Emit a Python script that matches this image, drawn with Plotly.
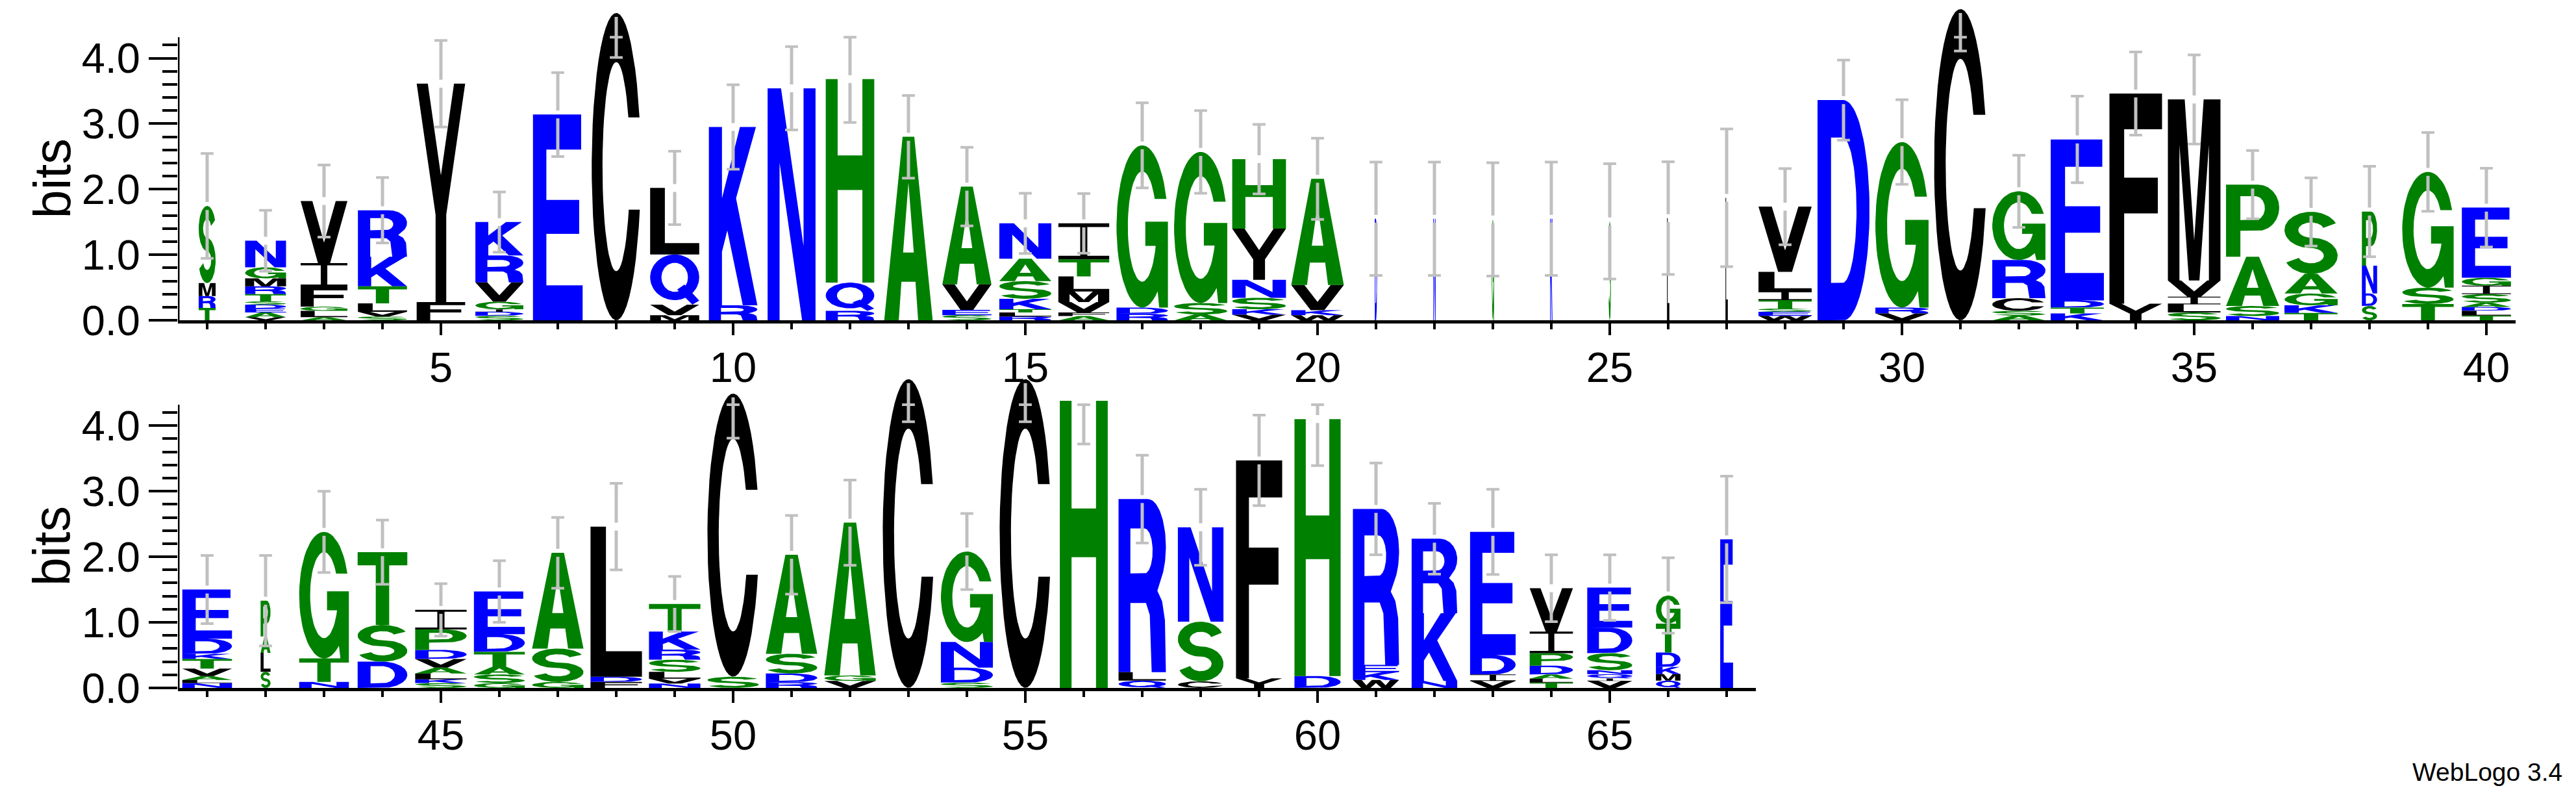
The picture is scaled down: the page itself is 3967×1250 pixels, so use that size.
import numpy as np
import plotly.graph_objects as go

# ------------------------------------------------------------------ data
positions = list(range(1, 68))

# letters of each stack, listed bottom -> top
stack_letters = [
    "TRMS", "VAEDSTRMGN", "ALGFIV", "SVLTKR", "FY", "SDIGVRK", "E", "C", "MVQL", "RK",
    "N", "RQH", "A", "SEVA", "RLTKSAN", "AFVMLTI", "RDG", "ASG", "VKSNYH", "WKVA",
    "D", "N", "G", "K", "S", "L", "L", "WESTILV", "D", "VRG",
    "C", "ASCRG", "KTDE", "YF", "SLIVM", "NSAP", "TKGAS", "SDNP", "TSG", "TLDASIGE",
    "NLAVTKDE", "SLAP", "NTG", "DST", "SKLAVDPI", "GSATDE", "GSA", "FDL", "NVLSRKT", "SC",
    "RDSA", "VGA", "C", "SDNG", "C", "H", "QLR", "CSN", "YF", "DH",
    "WKER", "NKR", "VIDE", "TLADPIV", "VIQNSDE", "QMKDTG", "E",
]

# letter heights in bits, bottom -> top
stack_heights = [
    [.19, .18, .20, 1.175],
    [.05, .07, .06, .06, .05, .11, .12, .12, .17, .405],
    [.05, .095, .065, .30, .365, .945],
    [.06, .07, .13, .26, .45, .71],
    [.28, 3.33],
    [.07, .06, .04, .115, .295, .41, .51],
    [3.14],
    [4.69],
    [.08, .16, .765, 1.015],
    [.23, 2.72],
    [3.54],
    [.145, .431, 3.104],
    [2.80],
    [.08, .08, .39, 1.49],
    [.06, .06, .05, .16, .27, .34, .54],
    [.066, .054, .16, .16, .23, .26, .55],
    [.10, .095, 2.475],
    [.09, .175, 2.305],
    [.086, .084, .175, .275, .78, 1.06],
    [.08, .075, .385, 1.62],
    [1.55], [1.55], [1.54], [1.55], [1.51], [1.56], [1.87],
    [.07, .06, .05, .13, .13, .30, .995],
    [3.36],
    [.105, .09, 2.525],
    [4.75],
    [.073, .073, .194, .58, 1.05],
    [.106, .089, .11, 2.455],
    [.255, 3.205],
    [.12, .125, .115, .25, 2.76],
    [.066, .154, .75, 1.10],
    [.113, .117, .18, .30, .945],
    [.22, .19, .425, .825],
    [.25, .25, 1.765],
    [.073, .073, .059, .065, .13, .13, .12, 1.07],
    [.073, .047, .06, .115, .145, .08, .23, .75],
    [.245, .29, .25, .545],
    [.09, .36, 1.93],
    [.40, .56, 1.11],
    [.073, .057, .09, .09, .13, .14, .31, .30],
    [.073, .132, .125, .22, .27, .65],
    [.09, .51, 1.46],
    [.09, .08, 2.29],
    [.066, .074, .105, .185, .155, .275, .42],
    [.17, 4.32],
    [.086, .134, .30, 1.51],
    [.106, .084, 2.33],
    [4.71],
    [.08, .23, .39, 1.38],
    [4.71],
    [4.38],
    [.11, .13, 2.64],
    [.10, .91, 1.44],
    [.146, 3.324],
    [.18, 3.92],
    [.12, .12, .11, 2.38],
    [.106, 1.034, 1.135],
    [.106, .099, .295, 1.88],
    [.08, .06, .065, .135, .19, .33, .66],
    [.106, .04, .064, .06, .26, .39, .61],
    [.11, .10, .11, .22, .44, .43],
    [2.265],
]

# stack width (fraction of one position)
stack_widths = [
    .29, .70, .80, .84, .83, .82, .85, .84, .84, .83,
    .82, .83, .83, .84, .89, .87, .88, .91, .92, .90,
    .04, .04, .04, .04, .04, .04, .04, .91, .89, .91,
    .90, .91, .91, .90, .90, .91, .91, .26, .88, .84,
    .85, .17, .85, .85, .88, .87, .88, .88, .88, .88,
    .88, .88, .88, .89, .88, .82, .81, .78, .79, .79,
    .79, .78, .78, .74, .77, .42, .22,
]

# error bar half-length (bits)
error_half = [
    .80, .465, .55, .50, .66, .46, .64, .68, .56, .645,
    .635, .66, .63, .60, .46, .455, .65, .63, .53, .62,
    .865, .865, .865, .865, .88, .86, 1.05, .58, .61, .645,
    .64, .55, .66, .635, .68, .52, .52, .69, .60, .60,
    .52, .69, .62, .49, .40, .47, .54, .66, .42, .68,
    .60, .65, .65, .58, .65, .66, .67, .58, .69, .71,
    .70, .54, .65, .51, .50, .575, .965,
]

top_positions = positions[:40]
bottom_positions = positions[40:]
y_ticks = [0, 1, 2, 3, 4]
y_ticktext = ["0.0", "1.0", "2.0", "3.0", "4.0"]
top_xticks = [5, 10, 15, 20, 25, 30, 35, 40]
bottom_xticks = [45, 50, 55, 60, 65]
YMAX = 4.32  # log2(20)

# ------------------------------------------------------------------ style
BLUE, GREEN, BLACK = "#0000ff", "#008000", "#000000"
COLOR = {}
for ch in "RKDENQ":
    COLOR[ch] = BLUE
for ch in "SGHTAP":
    COLOR[ch] = GREEN
for ch in "YVMCLFIW":
    COLOR[ch] = BLACK
ERR_COLOR = "#c0c0c0"
FONT = "Liberation Sans, Arial, Helvetica, sans-serif"


# ------------------------------------------------------------------ glyphs (unit box)
def arc(cx, cy, rx, ry, a0, a1, n=48):
    t = np.radians(np.linspace(a0, a1, n))
    return list(zip(cx + rx * np.cos(t), cy + ry * np.sin(t)))


def ang(cy, ry, y):
    return float(np.degrees(np.arcsin((y - cy) / ry)))


def stroke(spine, hx, hy):
    P = np.asarray(spine, float)
    Q = P / [hx, hy]
    d = np.gradient(Q, axis=0)
    d /= np.linalg.norm(d, axis=1)[:, None]
    nrm = np.stack([-d[:, 1], d[:, 0]], axis=1)
    L = (Q + nrm) * [hx, hy]
    R = (Q - nrm) * [hx, hy]
    return [tuple(p) for p in np.vstack([L, R[::-1]])]


def glyph(fill, holes=(), extra=()):
    return dict(fill=list(fill), holes=list(holes), extra=list(extra))


GLYPHS = {}
GLYPHS["A"] = glyph([[(0, 0), (0.30, 0), (0.355, 0.21), (0.645, 0.21), (0.70, 0), (1, 0),
                      (0.62, 1), (0.38, 1)]],
                    [[(0.39, 0.37), (0.61, 0.37), (0.5, 0.75)]])
# C
_ot, _ob = ang(0.5, 0.5, 0.66), ang(0.5, 0.5, 0.36)
_it, _ib = ang(0.5, 0.34, 0.66), ang(0.5, 0.34, 0.36)
GLYPHS["C"] = glyph([arc(0.5, 0.5, 0.5, 0.5, _ot, 360 + _ob) +
                     arc(0.5, 0.5, 0.28, 0.34, 360 + _ib, _it)])
# G
_gt = ang(0.5, 0.5, 0.67)
_git = ang(0.5, 0.34, 0.67)
_gib = ang(0.5, 0.34, 0.38)
_gx = 0.5 + 0.28 * np.cos(np.radians(_gib))
GLYPHS["G"] = glyph([arc(0.5, 0.5, 0.5, 0.5, _gt, 306.9) +
                     [(0.83, 0.0), (1.0, 0.0), (1.0, 0.53), (0.56, 0.53), (0.56, 0.38), (_gx, 0.38)] +
                     arc(0.5, 0.5, 0.28, 0.34, 360 + _gib, _git)])
GLYPHS["D"] = glyph([[(0, 0), (0.5, 0)] + arc(0.5, 0.5, 0.5, 0.5, -90, 90) + [(0.5, 1), (0, 1)]],
                    [[(0.26, 0.17), (0.48, 0.17)] + arc(0.48, 0.5, 0.27, 0.33, -90, 90) +
                     [(0.48, 0.83), (0.26, 0.83)]])
GLYPHS["E"] = glyph([[(0, 0), (1, 0), (1, 0.17), (0.27, 0.17), (0.27, 0.42), (0.93, 0.42),
                      (0.93, 0.585), (0.27, 0.585), (0.27, 0.83), (0.97, 0.83), (0.97, 1), (0, 1)]])
GLYPHS["F"] = glyph([[(0, 0), (0.28, 0), (0.28, 0.43), (0.92, 0.43), (0.92, 0.60), (0.28, 0.60),
                      (0.28, 0.83), (1, 0.83), (1, 1), (0, 1)]])
GLYPHS["H"] = glyph([[(0, 0), (0.245, 0), (0.245, 0.455), (0.755, 0.455), (0.755, 0), (1, 0),
                      (1, 1), (0.755, 1), (0.755, 0.625), (0.245, 0.625), (0.245, 1), (0, 1)]])
GLYPHS["I"] = glyph([[(0, 0), (1, 0), (1, 0.1), (0.57, 0.1), (0.57, 0.9), (1, 0.9), (1, 1), (0, 1),
                      (0, 0.9), (0.43, 0.9), (0.43, 0.1), (0, 0.1)]])
GLYPHS["K"] = glyph([[(0, 0), (0.27, 0), (0.27, 0.30), (0.38, 0.42), (0.70, 0), (1.0, 0),
                      (0.56, 0.60), (0.97, 1), (0.64, 1), (0.27, 0.60), (0.27, 1), (0, 1)]])
GLYPHS["L"] = glyph([[(0, 0), (1, 0), (1, 0.17), (0.30, 0.17), (0.30, 1), (0, 1)]])
GLYPHS["M"] = glyph([[(0, 0), (0.22, 0), (0.22, 0.75), (0.40, 0), (0.60, 0), (0.78, 0.75),
                      (0.78, 0), (1, 0), (1, 1), (0.68, 1), (0.5, 0.22), (0.32, 1), (0, 1)]])
GLYPHS["N"] = glyph([[(0, 0), (0.25, 0), (0.25, 0.68), (0.72, 0), (1, 0), (1, 1), (0.75, 1),
                      (0.75, 0.32), (0.28, 1), (0, 1)]])
GLYPHS["P"] = glyph([[(0, 0), (0.27, 0), (0.27, 0.36), (0.6, 0.36)] +
                     arc(0.6, 0.68, 0.4, 0.32, -90, 90) + [(0, 1)]],
                    [[(0.27, 0.51), (0.55, 0.51)] + arc(0.55, 0.675, 0.18, 0.165, -90, 90) +
                     [(0.27, 0.84)]])
GLYPHS["Q"] = glyph([arc(0.5, 0.545, 0.5, 0.455, 0, 360, 72)],
                    [arc(0.5, 0.545, 0.27, 0.29, 0, 360, 72)],
                    [[(0.55, 0.30), (0.70, 0.40), (1.0, 0.08), (0.86, 0.0)]])
GLYPHS["R"] = glyph([[(0, 0), (0.25, 0), (0.25, 0.40), (0.58, 0.40), (0.66, 0.33), (0.70, 0),
                      (1.0, 0), (0.98, 0.30), (0.92, 0.41), (0.82, 0.47)] +
                     arc(0.62, 0.725, 0.38, 0.275, -45, 90) + [(0, 1)]],
                    [[(0.25, 0.57), (0.55, 0.57)] + arc(0.55, 0.70, 0.17, 0.13, -90, 90) +
                     [(0.25, 0.83)]])
_sp = arc(0.5, 0.7075, 0.37, 0.2075, 20, 270, 60) + arc(0.5, 0.2925, 0.37, 0.2075, 90, -160, 60)[1:]
GLYPHS["S"] = glyph([stroke(_sp, 0.13, 0.085)])
GLYPHS["T"] = glyph([[(0.365, 0), (0.635, 0), (0.635, 0.82), (1, 0.82), (1, 1), (0, 1), (0, 0.82),
                      (0.365, 0.82)]])
GLYPHS["V"] = glyph([[(0, 1), (0.25, 1), (0.5, 0.33), (0.75, 1), (1, 1), (0.63, 0), (0.37, 0)]])
GLYPHS["W"] = glyph([[(0, 1), (0.19, 1), (0.29, 0.33), (0.41, 1), (0.59, 1), (0.71, 0.33),
                      (0.81, 1), (1, 1), (0.82, 0), (0.62, 0), (0.5, 0.62), (0.38, 0), (0.18, 0)]])
GLYPHS["Y"] = glyph([[(0.39, 0), (0.61, 0), (0.61, 0.40), (1, 1), (0.77, 1), (0.5, 0.58),
                      (0.23, 1), (0, 1), (0.39, 0.40)]])


# ------------------------------------------------------------------ build traces
def add_poly(bucket, poly, x0, w, y0, h):
    for gx, gy in poly:
        bucket[0].append(x0 + gx * w)
        bucket[1].append(y0 + gy * h)
    bucket[0].append(None)
    bucket[1].append(None)


def panel_traces(panel_positions, xa, ya):
    cols = [BLUE, GREEN, BLACK]
    fills = {c: ([], []) for c in cols}
    extras = {c: ([], []) for c in cols}
    holes = ([], [])
    bars = ([], [])
    caps = ([], [])
    gap, capw = 0.06, 0.11
    for p in panel_positions:
        i = positions.index(p)
        w = stack_widths[i]
        x0 = p - w / 2
        y0 = 0.0
        for ch, h in zip(stack_letters[i], stack_heights[i]):
            g = GLYPHS[ch]
            c = COLOR[ch]
            for poly in g["fill"]:
                add_poly(fills[c], poly, x0, w, y0, h)
            for poly in g["holes"]:
                add_poly(holes, poly, x0, w, y0, h)
            for poly in g["extra"]:
                add_poly(extras[c], poly, x0, w, y0, h)
            y0 += h
        top = y0
        e = error_half[i]
        lo, hi = top - e, min(top + e, YMAX)
        bars[0].extend([p, p, None])
        bars[1].extend([lo, top - gap, None])
        if hi > top + gap:
            bars[0].extend([p, p, None])
            bars[1].extend([top + gap, hi, None])
        for yv in (lo, hi):
            caps[0].extend([p - capw, p + capw, None])
            caps[1].extend([yv, yv, None])

    traces = []
    common = dict(mode="lines", hoverinfo="skip", showlegend=False, xaxis=xa, yaxis=ya)
    for c in cols:
        if fills[c][0]:
            traces.append(go.Scatter(x=fills[c][0], y=fills[c][1], fill="toself", fillcolor=c,
                                     line=dict(width=0, color=c), **common))
    if holes[0]:
        traces.append(go.Scatter(x=holes[0], y=holes[1], fill="toself", fillcolor="white",
                                 line=dict(width=0, color="white"), **common))
    for c in cols:
        if extras[c][0]:
            traces.append(go.Scatter(x=extras[c][0], y=extras[c][1], fill="toself", fillcolor=c,
                                     line=dict(width=0, color=c), **common))
    traces.append(go.Scatter(x=bars[0], y=bars[1], line=dict(width=5, color=ERR_COLOR), **common))
    traces.append(go.Scatter(x=caps[0], y=caps[1], line=dict(width=4, color=ERR_COLOR), **common))
    return traces


fig = go.Figure()
for t in panel_traces(top_positions, "x", "y"):
    fig.add_trace(t)
for t in panel_traces(bottom_positions, "x2", "y2"):
    fig.add_trace(t)

# ------------------------------------------------------------------ layout
W, H = 3967, 1250
LEFT = 266
UNIT = 90
YR = [0, 500 / 104]
tickfont = dict(family=FONT, size=65, color="black")

xcommon = dict(showgrid=False, zeroline=False, showline=True, linewidth=5, linecolor="black",
               ticks="outside", ticklen=18, tickwidth=4, tickcolor="black", tickfont=tickfont,
               tickmode="array", ticklabelstandoff=-6)
ycommon = dict(showgrid=False, zeroline=False, showline=False, range=YR,
               ticks="outside", ticklen=44, tickwidth=4, tickcolor="black", tickfont=tickfont,
               tickmode="array", tickvals=y_ticks, ticktext=y_ticktext,
               minor=dict(tickmode="array",
                          tickvals=[round(v * 0.2, 1) for v in range(1, 22) if v % 5 != 0],
                          ticklen=23, tickwidth=4, tickcolor="black", ticks="outside"))

fig.update_layout(
    width=W, height=H,
    margin=dict(l=0, r=0, t=0, b=0),
    paper_bgcolor="white", plot_bgcolor="rgba(0,0,0,0)",
    showlegend=False,
    xaxis=dict(domain=[LEFT / W, (LEFT + 40 * UNIT) / W], range=[0.5, 40.5], anchor="y",
               tickvals=top_xticks,
               minor=dict(tickmode="array", tickvals=top_positions, ticklen=9, tickwidth=4,
                          tickcolor="black", ticks="outside"),
               **xcommon),
    yaxis=dict(domain=[0.6, 1.0], anchor="x", **ycommon),
    xaxis2=dict(domain=[LEFT / W, (LEFT + 27 * UNIT) / W], range=[40.5, 67.5], anchor="y2",
                tickvals=bottom_xticks,
                minor=dict(tickmode="array", tickvals=bottom_positions, ticklen=9, tickwidth=4,
                           tickcolor="black", ticks="outside"),
                **xcommon),
    yaxis2=dict(domain=[167 / H, 667 / H], anchor="x2", **ycommon),
    shapes=[
        dict(type="line", xref="x", yref="y", x0=0.5, x1=0.5, y0=-0.024, y1=YMAX,
             line=dict(color="black", width=5)),
        dict(type="line", xref="x2", yref="y2", x0=40.5, x1=40.5, y0=-0.024, y1=YMAX,
             line=dict(color="black", width=5)),
    ],
    annotations=[
        dict(text="bits", xref="paper", yref="y", x=72 / W, y=YMAX / 2, textangle=-90,
             showarrow=False, xanchor="center", yanchor="middle",
             font=dict(family=FONT, size=79, color="black")),
        dict(text="bits", xref="paper", yref="y2", x=72 / W, y=YMAX / 2, textangle=-90,
             showarrow=False, xanchor="center", yanchor="middle",
             font=dict(family=FONT, size=79, color="black")),
        dict(text="WebLogo 3.4", xref="paper", yref="paper", x=3940 / W, y=(H - 1217) / H,
             showarrow=False, xanchor="right", yanchor="middle",
             font=dict(family=FONT, size=39, color="black")),
    ],
)

fig.write_html("out.html")
